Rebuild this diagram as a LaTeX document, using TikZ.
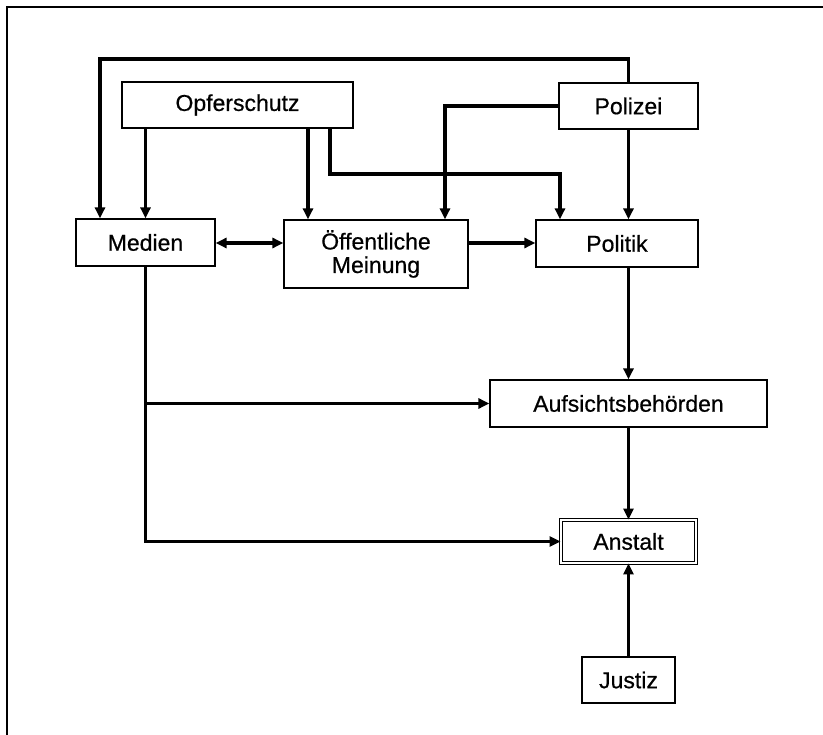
\documentclass[tikz,border=0pt]{standalone}
\usepackage{fontspec}
\setmainfont[FakeBold=0.6]{Liberation Sans}
\usetikzlibrary{arrows.meta}
\begin{document}
\begin{tikzpicture}[x=1pt,y=-1pt,
  box/.style={draw, line width=1.2pt, rectangle, inner sep=0pt, align=center,
    font=\fontsize{23}{23.5}\selectfont},
  arr/.style={line width=3.5pt, -{Triangle[length=11pt,width=10pt]}},
  darr/.style={line width=3.5pt, {Triangle[length=11pt,width=10pt]}-{Triangle[length=11pt,width=10pt]}}
  ]
\useasboundingbox (0,0) rectangle (823,735);
\draw[line width=2pt] (7,735) -- (7,7) -- (823,7);

\node[box, minimum width=231pt, minimum height=46pt] (Opf) at (237.5,105) {Opferschutz};
\node[box, minimum width=139pt, minimum height=46pt] (Pol) at (628.5,106) {Polizei};
\node[box, minimum width=139pt, minimum height=47pt] (Med) at (145.5,242.5) {Medien};
\node[box, minimum width=184pt, minimum height=68pt] (Oef) at (376,254) {Öffentliche\\Meinung};
\node[box, minimum width=162pt, minimum height=47pt] (Pli) at (617,243.5) {Politik};
\node[box, minimum width=277pt, minimum height=47pt] (Auf) at (628.5,403.5) {Aufsichtsbehörden};
\node[box, line width=0.9pt, double, double distance=2pt, minimum width=135pt, minimum height=43pt] (Ans) at (628.5,541.5) {Anstalt};
\node[box, minimum width=93pt, minimum height=46pt] (Jus) at (628.5,680) {Justiz};

\coordinate (c1) at (308,0);
\coordinate (c2) at (445,0);
\coordinate (c3) at (330,174);
\coordinate (c4) at (560,174);
\coordinate (c5) at (0,243);
\coordinate (t1) at (628.5,59);
\coordinate (t2) at (100,59);

\draw[arr] (Pol.north) -- (t1) -- (t2) -- (Med.north -| t2);
\draw[arr] (Opf.south -| Med.north) -- (Med.north);
\draw[arr] (Opf.south -| c1) -- (Oef.north -| c1);
\draw[arr] (Opf.south -| c3) -- (c3) -- (c4) -- (Pli.north -| c4);
\draw[arr] (Pol.west) -| (Oef.north -| c2);
\draw[arr] (Pol.south) -- (Pli.north -| Pol.south);
\draw[darr] (Med.east |- c5) -- (Oef.west |- c5);
\draw[arr] (Oef.east |- c5) -- (Pli.west |- c5);
\draw[arr] (Pli.south -| Auf.north) -- (Auf.north);
\draw[arr] (Med.south) |- (Ans.west);
\draw[arr] (Med.south |- Auf.west) -- (Auf.west);
\draw[arr] (Auf.south) -- (Ans.north);
\draw[arr] (Jus.north) -- (Ans.south);
\end{tikzpicture}
\end{document}
